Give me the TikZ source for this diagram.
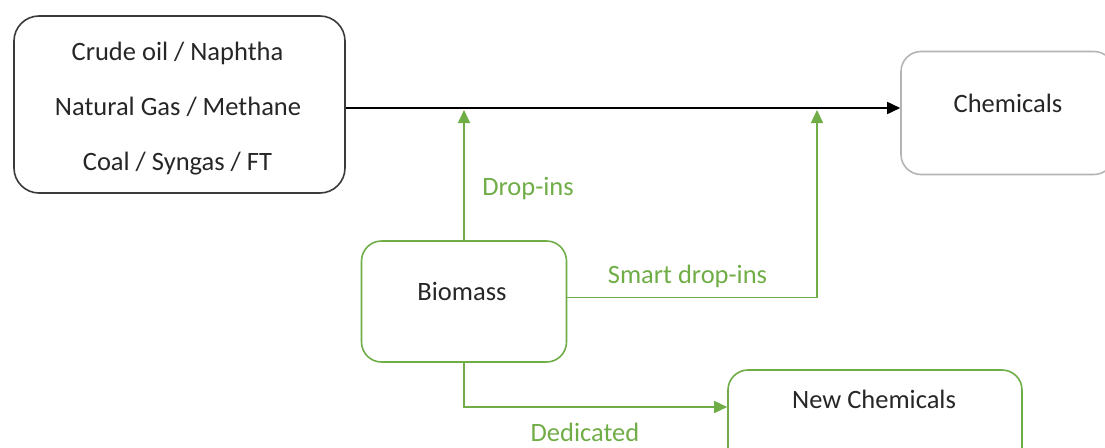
\documentclass[tikz,border=0pt]{standalone}
\usepackage{fontspec}
\setmainfont{Carlito}
\usetikzlibrary{arrows.meta}
\definecolor{leaf}{HTML}{70AD47}
\definecolor{ink}{HTML}{262626}
\definecolor{edgegray}{HTML}{3A3A3A}
\definecolor{softgray}{HTML}{B4B4B4}
\begin{document}
\begin{tikzpicture}[x=1pt,y=-1pt,
  box/.style={draw, rounded corners=#1, line width=1.6pt, inner sep=0pt},
  txt/.style={anchor=base, text=ink, font=\fontsize{26.5}{30}\selectfont, inner sep=0pt},
  gtxt/.style={txt, text=leaf},
  flow/.style={line width=1.6pt, -{Triangle[length=13pt,width=12pt]}},
  gflow/.style={flow, draw=leaf}
]
\useasboundingbox (0,0) rectangle (1105,447);
\clip (0,0) rectangle (1105,447);

% boxes
\node[box=25pt, draw=edgegray, minimum width=331pt, minimum height=177pt] (fossil) at (179.5,104.5) {};
\node[box=20pt, draw=softgray, minimum width=213pt, minimum height=123pt] (chem) at (1007.5,113) {};
\node[box=20pt, draw=leaf, minimum width=205pt, minimum height=121pt] (bio) at (464,301.5) {};
\node[box=20pt, draw=leaf, minimum width=294pt, minimum height=110pt] (newc) at (875,425) {};

% box texts
\node[txt] (t1) at (177.5,60) {Crude oil / Naphtha};
\node[txt] (t2) at (178,115) {Natural Gas / Methane};
\node[txt] (t3) at (177.5,170) {Coal / Syngas / FT};
\node[txt] (tc) at (1008,112) {Chemicals};
\node[txt] (tb) at (462,300) {Biomass};
\node[txt] (tn) at (874,408) {New Chemicals};

% routing levels
\coordinate (main) at (0,108);
\coordinate (tipa) at (0,110);
\coordinate (smart) at (817,110);
\coordinate (sy) at (0,297.5);
\coordinate (dy) at (0,407);

% connectors
\draw[flow, draw=black] (fossil.east |- main) -- (chem.west |- main);
\draw[gflow] (bio.north) -- (bio.north |- tipa);
\draw[gflow] (bio.east |- sy) -| (smart);
\draw[gflow] (bio.south) |- (newc.west |- dy);

% connector labels
\node[gtxt] (ld) at (528,195) {Drop-ins};
\node[gtxt] (ls) at (687.5,283) {Smart drop-ins};
\node[gtxt] (lded) at (585,441) {Dedicated};
\end{tikzpicture}
\end{document}
